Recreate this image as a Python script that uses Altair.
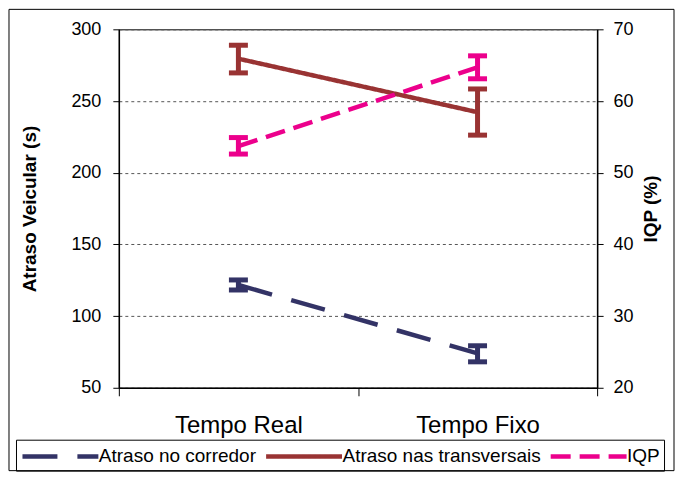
import altair as alt
import pandas as pd

# ---- data ----
categories = ["Tempo Real", "Tempo Fixo"]
series_names = ["Atraso no corredor", "Atraso nas transversais", "IQP"]

corredor_mean = [121.7, 74.0]
corredor_low = [118.2, 68.1]
corredor_high = [125.2, 79.3]

transv_mean = [279.5, 242.2]
transv_low = [269.6, 226.2]
transv_high = [288.9, 258.4]

iqp_mean = [53.7, 64.7]
iqp_low = [52.6, 63.1]
iqp_high = [54.9, 66.3]

left_ticks = [50, 100, 150, 200, 250, 300]
right_ticks = [20, 30, 40, 50, 60, 70]

# ---- styles ----
colors = ["#333366", "#993333", "#EC008C"]
dashes = [[35, 20], [1, 0], [20, 9]]
widths = [4.5, 4.5, 2.5]
FONT = "Liberation Sans"

rows_left = []
for i, c in enumerate(categories):
    rows_left.append({"cat": c, "serie": series_names[0], "v": corredor_mean[i],
                      "lo": corredor_low[i], "hi": corredor_high[i]})
    rows_left.append({"cat": c, "serie": series_names[1], "v": transv_mean[i],
                      "lo": transv_low[i], "hi": transv_high[i]})
rows_right = []
for i, c in enumerate(categories):
    rows_right.append({"cat": c, "serie": series_names[2], "v": iqp_mean[i],
                       "lo": iqp_low[i], "hi": iqp_high[i]})
df_left = pd.DataFrame(rows_left)
df_right = pd.DataFrame(rows_right)

# long horizontal legend stroke (custom path scaled by sqrt(size)/2 = 10 px)
legend = alt.Legend(
    title=None, orient="none", legendX=-103, legendY=411, direction="horizontal",
    strokeColor="black", padding=4, labelFont=FONT, labelFontSize=19,
    labelColor="black", labelLimit=0, symbolType="M-1,0H6.6", symbolSize=400,
    labelOffset=54, columnPadding=0, symbolOpacity=1
)

xenc = alt.X("cat:N", sort=categories,
             scale=alt.Scale(type="band", domain=categories, paddingInner=0, paddingOuter=0),
             axis=alt.Axis(title=None, labelFont=FONT, labelFontSize=24, labelColor="black",
                           labelAngle=0, tickBand="extent", tickSize=8, tickColor="black",
                           domainColor="black", domainWidth=1.5, labelPadding=18, grid=False))

color_enc = alt.Color("serie:N", scale=alt.Scale(domain=series_names, range=colors), legend=legend)
dash_enc = alt.StrokeDash("serie:N", scale=alt.Scale(domain=series_names, range=dashes), legend=legend)
width_enc = alt.StrokeWidth("serie:N", scale=alt.Scale(domain=series_names, range=widths), legend=legend)

yl_scale = alt.Scale(domain=[50, 300], zero=False, nice=False)
yl_axis = alt.Axis(title="Atraso Veicular (s)", values=left_ticks, labelFont=FONT,
                   labelFontSize=18, labelColor="black", tickSize=6, tickColor="black",
                   labelPadding=12, domainColor="black", domainWidth=1.5,
                   titleFont=FONT, titleFontSize=19, titleFontWeight="bold",
                   titleColor="black", titlePadding=31,
                   grid=True, gridColor="#555555", gridDash=[3, 3], gridWidth=1)
yr_scale = alt.Scale(domain=[20, 70], zero=False, nice=False)
yr_axis = alt.Axis(title="IQP (%)", orient="right", values=right_ticks, labelFont=FONT,
                   labelFontSize=18, labelColor="black", tickSize=6, tickColor="black",
                   labelPadding=10, domainColor="black", domainWidth=1.5,
                   titleFont=FONT, titleFontSize=19, titleFontWeight="bold",
                   titleColor="black", titlePadding=8, titleAngle=270,
                   titleBaseline="top", grid=False)

frame = alt.Chart(pd.DataFrame({"a": [0]})).mark_rect(
    fillOpacity=0, stroke="black", strokeWidth=1
).encode(x=alt.value(-110), x2=alt.value(556), y=alt.value(-20), y2=alt.value(442))


def series_layers(df, yscale, yaxis):
    base = alt.Chart(df)
    rule = base.mark_rule(strokeWidth=5, opacity=1).encode(
        x=xenc, y=alt.Y("lo:Q", scale=yscale, axis=yaxis), y2="hi:Q", color=color_enc)
    cap_lo = base.mark_tick(thickness=5, size=19, opacity=1).encode(
        x=xenc, y=alt.Y("lo:Q", scale=yscale, axis=yaxis), color=color_enc)
    cap_hi = base.mark_tick(thickness=5, size=19, opacity=1).encode(
        x=xenc, y=alt.Y("hi:Q", scale=yscale, axis=yaxis), color=color_enc)
    lines = base.mark_line(opacity=1).encode(
        x=xenc, y=alt.Y("v:Q", scale=yscale, axis=yaxis),
        color=color_enc, strokeDash=dash_enc, strokeWidth=width_enc)
    return [rule, cap_lo, cap_hi, lines]


left = alt.layer(frame, *series_layers(df_left, yl_scale, yl_axis))
right = alt.layer(*series_layers(df_right, yr_scale, yr_axis))

chart = alt.layer(left, right).resolve_scale(y="independent").properties(
    width=479, height=359, padding=0, background="white"
).configure_view(stroke="black", strokeWidth=1)

chart.save("out.html", embed_options={"renderer": "svg", "actions": False})
